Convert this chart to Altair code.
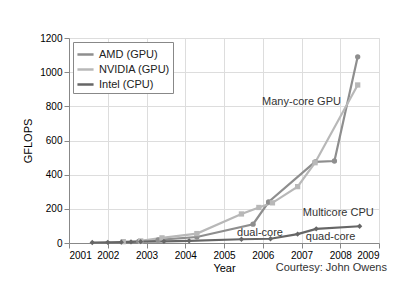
import altair as alt
import pandas as pd

series_names = ["AMD (GPU)", "NVIDIA (GPU)", "Intel (CPU)"]
series_colors = ["#8e8e8e", "#b8b8b8", "#666666"]
series_shapes = ["circle", "square", "diamond"]

amd_years = [2002.8, 2003.3, 2004.3, 2005.75, 2006.15, 2007.35, 2007.85, 2008.45]
amd_gflops = [10, 18, 35, 110, 240, 475, 480, 1090]

nvidia_years = [2002.4, 2002.85, 2003.4, 2004.3, 2005.45, 2005.9, 2006.25, 2006.9, 2007.35, 2008.45]
nvidia_gflops = [8, 12, 30, 55, 170, 208, 235, 330, 470, 925]

intel_years = [2001.6, 2002.0, 2002.35, 2002.6, 2002.85, 2003.45, 2004.1, 2005.45, 2006.2, 2006.9, 2007.38, 2008.5]
intel_gflops = [3, 4, 5, 6, 8, 10, 13, 22, 25, 52, 83, 98]

note_text = ["Many-core GPU", "Multicore CPU", "dual-core", "quad-core"]
note_year = [2007.0, 2007.95, 2005.93, 2007.75]
note_gflops = [827, 178, 57, 37]

x_ticks = [2001, 2002, 2003, 2004, 2005, 2006, 2007, 2008, 2009]
y_ticks = [0, 200, 400, 600, 800, 1000, 1200]

rows = []
for name, ys, vs in [(series_names[0], amd_years, amd_gflops),
                     (series_names[1], nvidia_years, nvidia_gflops),
                     (series_names[2], intel_years, intel_gflops)]:
    for i, (y, v) in enumerate(zip(ys, vs)):
        rows.append({"series": name, "year": y, "gflops": v, "order": i})
df = pd.DataFrame(rows)
notes = pd.DataFrame({"text": note_text, "year": note_year, "gflops": note_gflops})

FONT = "Liberation Sans"

x_axis = alt.Axis(values=x_ticks, format="d", title="Year", labelOverlap=False,
                  titleFontWeight="normal", titleFontSize=11, titlePadding=2)
y_axis = alt.Axis(values=y_ticks, format="d", title="GFLOPS", labelOverlap=False,
                  titleFontWeight="normal", titleFontSize=11, titlePadding=6)
x_scale = alt.Scale(domain=[2001, 2009], nice=False)
y_scale = alt.Scale(domain=[0, 1200], nice=False)


def xe():
    return alt.X("year:Q", scale=x_scale, axis=x_axis)


def ye():
    return alt.Y("gflops:Q", scale=y_scale, axis=y_axis)


color_scale = alt.Scale(domain=series_names, range=series_colors)

lines = alt.Chart(df).mark_line(strokeWidth=2.2).encode(
    x=xe(), y=ye(), order="order:Q",
    color=alt.Color("series:N", scale=color_scale, sort=series_names,
                    legend=alt.Legend(title=None, orient="none", legendX=4, legendY=4,
                                      symbolType="stroke", symbolSize=260, symbolStrokeWidth=2.5,
                                      labelFontSize=11, labelFont=FONT, padding=3,
                                      strokeColor="#888888", fillColor="white",
                                      rowPadding=-4, labelColor="#222222", labelOffset=4)),
)

points = alt.Chart(df).mark_point(filled=True, size=28, opacity=1, strokeWidth=0).encode(
    x=xe(), y=ye(),
    fill=alt.Fill("series:N", scale=color_scale, legend=None),
    shape=alt.Shape("series:N", scale=alt.Scale(domain=series_names, range=series_shapes), legend=None),
)

labels = alt.Chart(notes).mark_text(fontSize=11, font=FONT, color="#333333").encode(
    x=xe(), y=ye(), text="text:N")

courtesy = alt.Chart(pd.DataFrame({"t": ["Courtesy: John Owens"]})).mark_text(
    fontSize=11, font=FONT, color="#333333", align="right").encode(
    x=alt.value(318), y=alt.value(230), text="t:N")

chart = alt.layer(lines, points, labels, courtesy).resolve_scale(
    color="independent", shape="independent"
).resolve_legend(color="independent", shape="independent").properties(
    width=310, height=205,
    autosize=alt.AutoSizeParams(type="none"),
    padding={"left": 61, "top": 30, "right": 13, "bottom": 34},
).configure_view(stroke="#444444", strokeWidth=1).configure_axis(
    grid=False, domain=False, tickSize=3, tickColor="#444444",
    labelFont=FONT, titleFont=FONT, labelFontSize=11, labelColor="#222222", titleColor="#222222",
    labelPadding=2,
).configure(background="white")

chart.save("out.html", embed_options={"renderer": "svg", "actions": False})
